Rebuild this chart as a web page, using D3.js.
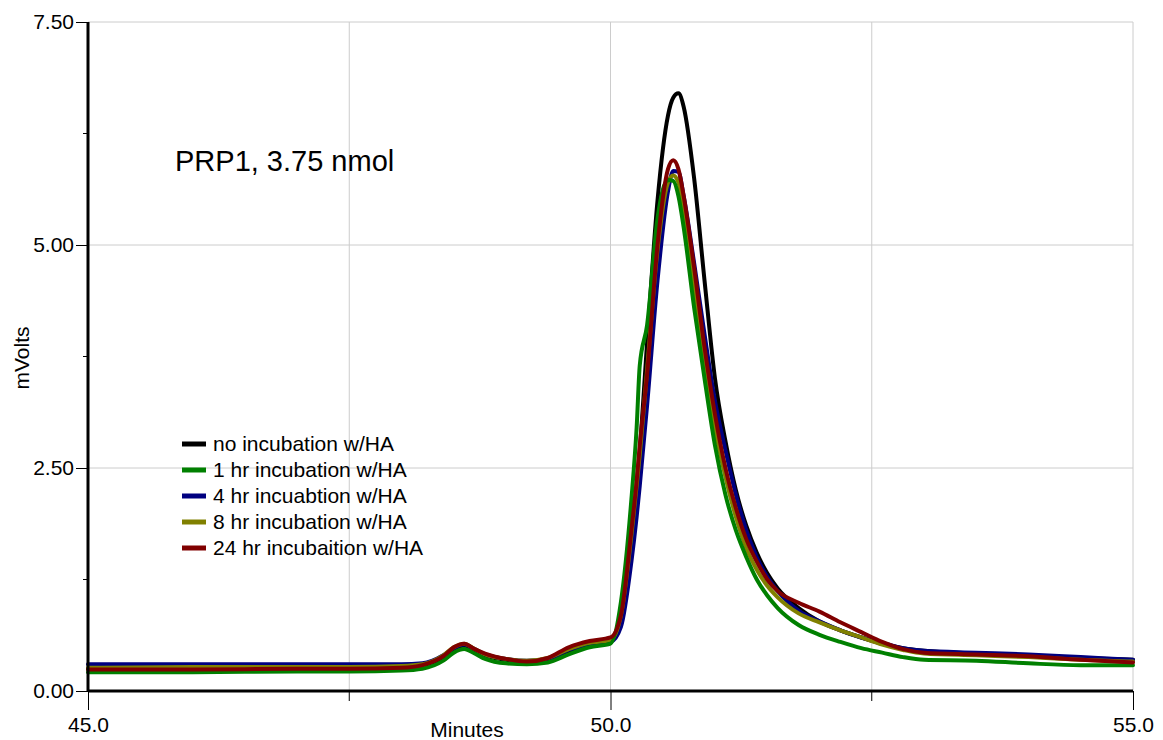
<!DOCTYPE html>
<html><head><meta charset="utf-8">
<script src="https://cdn.jsdelivr.net/npm/d3@7"></script>
<style>body{margin:0;background:#fff;}svg{display:block;font-family:"Liberation Sans",Arial,sans-serif;}</style>
</head><body>
<script>
const minutes = [45,46,47,47.5,48,48.2,48.4,48.5,48.6,48.7,48.8,49.0,49.2,49.4,49.6,49.8,50.0,50.1,50.2,50.25,50.28,50.35,50.45,50.55,50.6,50.65,50.7,50.8,50.9,51.0,51.1,51.2,51.3,51.4,51.5,51.6,51.8,52.0,52.2,52.4,52.6,52.8,53.0,53.5,54.0,54.5,55.0];
const noIncubation = [0.25,0.25,0.26,0.26,0.27,0.29,0.38,0.47,0.51,0.46,0.40,0.35,0.32,0.35,0.45,0.52,0.56,0.80,1.70,2.30,2.70,3.90,5.50,6.45,6.65,6.70,6.55,5.75,4.60,3.50,2.80,2.25,1.85,1.55,1.32,1.15,0.93,0.78,0.68,0.60,0.53,0.48,0.45,0.42,0.40,0.37,0.35];
const hr1 = [0.21,0.21,0.22,0.22,0.23,0.25,0.34,0.43,0.47,0.42,0.36,0.31,0.30,0.32,0.41,0.49,0.53,1.00,2.15,2.95,3.65,4.10,5.30,5.73,5.72,5.55,5.20,4.30,3.50,2.75,2.20,1.80,1.50,1.25,1.07,0.93,0.74,0.63,0.55,0.48,0.43,0.38,0.35,0.34,0.31,0.29,0.29];
const hr4 = [0.30,0.30,0.30,0.30,0.30,0.31,0.40,0.48,0.52,0.47,0.41,0.36,0.34,0.36,0.46,0.52,0.55,0.72,1.45,1.95,2.30,3.20,4.60,5.60,5.83,5.82,5.55,4.80,4.00,3.25,2.70,2.20,1.80,1.50,1.28,1.12,0.90,0.78,0.68,0.60,0.54,0.48,0.45,0.43,0.41,0.38,0.35];
const hr8 = [0.26,0.27,0.27,0.27,0.28,0.30,0.40,0.49,0.53,0.47,0.41,0.36,0.34,0.37,0.47,0.54,0.57,0.85,1.75,2.30,2.65,3.60,4.95,5.70,5.78,5.70,5.40,4.55,3.70,2.95,2.40,1.95,1.60,1.36,1.18,1.05,0.87,0.77,0.68,0.60,0.52,0.46,0.42,0.40,0.38,0.35,0.33];
const hr24 = [0.24,0.24,0.25,0.25,0.26,0.29,0.39,0.49,0.53,0.47,0.42,0.36,0.33,0.37,0.49,0.56,0.60,0.85,1.80,2.35,2.75,3.55,5.00,5.85,5.95,5.85,5.55,4.75,3.85,3.10,2.50,2.05,1.70,1.45,1.25,1.12,0.99,0.89,0.77,0.66,0.55,0.47,0.43,0.41,0.39,0.35,0.32];

const seriesNames = ["no incubation w/HA","1 hr incubation w/HA","4 hr incuabtion w/HA","8 hr incubation w/HA","24 hr incubaition w/HA"];
const seriesColors = ["#000000","#008000","#000080","#808000","#800000"];
const seriesValues = [noIncubation, hr1, hr4, hr8, hr24];
const drawOrder = [0,2,3,1,4];

const yTicks = [0,2.5,5,7.5];
const yMinorTicks = [1.25,3.75,6.25];
const xTicks = [45,50,55];
const xMinorTicks = [47.5,52.5];
const xGrid = [47.5,50,52.5,55];
const yGrid = [2.5,5,7.5];

const W=1163,H=740;
const L=88,R=1133,T=22,B=691;
const FONT="Liberation Sans, Arial, sans-serif";
const x=d3.scaleLinear().domain([45,55]).range([L,R]);
const y=d3.scaleLinear().domain([0,7.5]).range([B,T]);

const svg=d3.select("body").append("svg").attr("width",W).attr("height",H);

// grid
svg.append("g").selectAll("line").data(xGrid).join("line")
 .attr("x1",d=>x(d)).attr("x2",d=>x(d)).attr("y1",T).attr("y2",B)
 .attr("stroke","#cccccc").attr("stroke-width",1);
svg.append("g").selectAll("line").data(yGrid).join("line")
 .attr("x1",L).attr("x2",R).attr("y1",d=>y(d)).attr("y2",d=>y(d))
 .attr("stroke","#cccccc").attr("stroke-width",1);

// lines
const line=d3.line().x(d=>x(d[0])).y(d=>y(d[1])).curve(d3.curveMonotoneX);
drawOrder.forEach(i=>{
  svg.append("path").datum(minutes.map((m,k)=>[m,seriesValues[i][k]]))
   .attr("d",line).attr("fill","none").attr("stroke",seriesColors[i])
   .attr("stroke-width",4).attr("stroke-linejoin","round").attr("stroke-linecap","round");
});

// y axis
const yAxis=svg.append("g").attr("transform",`translate(${L},0)`)
 .call(d3.axisLeft(y).tickValues(yTicks).tickFormat(d3.format(".2f")).tickSize(12).tickPadding(2));
yAxis.select(".domain").remove();
yAxis.selectAll("text").attr("font-size",21).attr("fill","#000").attr("font-family",FONT);
yAxis.selectAll("line").attr("stroke","#000");
svg.append("g").selectAll("line").data(yMinorTicks).join("line")
 .attr("x1",L-5).attr("x2",L).attr("y1",d=>y(d)).attr("y2",d=>y(d)).attr("stroke","#000");

// x axis
const xAxis=svg.append("g").attr("transform",`translate(0,${B})`)
 .call(d3.axisBottom(x).tickValues(xTicks).tickFormat(d3.format(".1f")).tickSize(19).tickPadding(7));
xAxis.select(".domain").remove();
xAxis.selectAll("text").attr("font-size",21).attr("fill","#000").attr("font-family",FONT);
xAxis.selectAll("line").attr("stroke","#000");
svg.append("g").selectAll("line").data(xMinorTicks).join("line")
 .attr("x1",d=>x(d)).attr("x2",d=>x(d)).attr("y1",B).attr("y2",B+10).attr("stroke","#000");

// axis lines
svg.append("line").attr("x1",L).attr("x2",L).attr("y1",T).attr("y2",B+1).attr("stroke","#000").attr("stroke-width",3);
svg.append("line").attr("x1",L).attr("x2",R).attr("y1",B).attr("y2",B).attr("stroke","#000").attr("stroke-width",3);

// axis titles
svg.append("text").attr("x",467).attr("y",737).attr("text-anchor","middle").attr("font-size",21).attr("font-family",FONT).text("Minutes");
svg.append("text").attr("transform","translate(29,358) rotate(-90)").attr("text-anchor","middle").attr("font-size",21).attr("font-family",FONT).text("mVolts");

// title
svg.append("text").attr("x",175).attr("y",171).attr("font-size",29).attr("font-family",FONT).text("PRP1, 3.75 nmol");

// legend
const lg=svg.append("g");
seriesNames.forEach((n,i)=>{
  const yy=444+i*26;
  lg.append("line").attr("x1",182).attr("x2",206).attr("y1",yy).attr("y2",yy).attr("stroke",seriesColors[i]).attr("stroke-width",5);
  lg.append("text").attr("x",213).attr("y",yy+7).attr("font-size",21).attr("font-family",FONT).text(n);
});
</script>
</body></html>
